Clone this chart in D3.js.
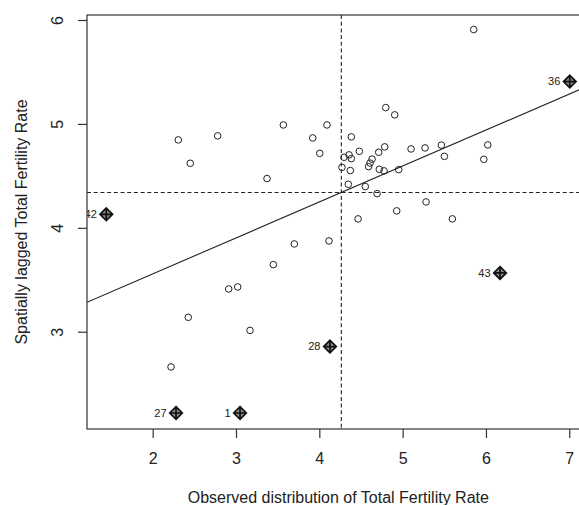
<!DOCTYPE html>
<html>

<head>
  <meta charset="UTF-8">
  <title>Moran scatterplot - Total Fertility Rate</title>
  <style>
    body {
      margin: 0;
      background: #fff;
    }

    text {
      font-family: "Liberation Sans", Arial, sans-serif;
      fill: #222;
    }

    .axis path,
    .axis line {
      stroke: #333;
      stroke-width: 1.2px;
    }

    .pt {
      fill: none;
      stroke: #222;
      stroke-width: 1px;
    }

    .infl {
      fill: #8a8a8a;
      stroke: #111;
      stroke-width: 1.7px;
    }

    .guide {
      fill: none;
      stroke: #222;
      stroke-width: 1.1px;
      stroke-dasharray: 4, 2.7;
    }

    .fit {
      fill: none;
      stroke: #222;
      stroke-width: 1.1px;
    }
  </style>
</head>

<body>
  <svg width="579" height="505" id="chart"></svg>
  <script src="https://cdn.jsdelivr.net/npm/d3@7"></script>
  <script>
    var fertility = [2.307, 2.451, 2.780, 3.568, 3.372, 3.700, 5.853, 4.797, 4.905, 4.092,
      3.921, 4.005, 4.384, 4.480, 4.297, 4.357, 4.384, 4.272, 4.372, 4.348,
      4.552, 4.693, 4.713, 4.785, 4.633, 4.609, 4.591, 4.720, 4.777, 4.953,
      5.101, 5.269, 5.465, 5.501, 6.022, 5.974, 5.281, 4.929, 4.465, 5.597,
      4.116, 3.448, 2.912, 3.020, 2.427, 3.168, 2.220];
    var lagged = [4.846, 4.621, 4.885, 4.990, 4.474, 3.845, 5.908, 5.157, 5.087, 4.990,
      4.865, 4.717, 4.875, 4.736, 4.679, 4.702, 4.666, 4.582, 4.551, 4.419,
      4.397, 4.329, 4.727, 4.779, 4.661, 4.623, 4.589, 4.563, 4.548, 4.560,
      4.759, 4.769, 4.796, 4.688, 4.798, 4.659, 4.249, 4.163, 4.086, 4.086,
      3.874, 3.646, 3.412, 3.431, 3.139, 3.013, 2.661];

    // influential observations
    var inflIds = ["42", "36", "43", "28", "27", "1"];
    var inflX = [1.443, 7.006, 6.169, 4.128, 2.280, 3.048];
    var inflY = [4.130, 5.407, 3.566, 2.857, 2.218, 2.218];

    // means and fitted line (lag ~ x)
    var meanX = 4.264;
    var meanY = 4.34;
    var slope = 0.346;
    var intercept = meanY - slope * meanX;

    var xTicks = [2, 3, 4, 5, 6, 7];
    var yTicks = [3, 4, 5, 6];
    var xLim = [1.2115, 7.244];
    var yLim = [2.064, 6.048];

    var svg = d3.select("#chart"),
      margin = { top: 15, left: 87 },
      width = 502.6,
      height = 414;

    var x = d3.scaleLinear().domain(xLim).range([0, width]),
      y = d3.scaleLinear().domain(yLim).range([height, 0]);

    var g = svg.append("g").attr("transform", "translate(" + margin.left + "," + margin.top + ")");

    g.append("defs").append("clipPath")
      .attr("id", "plotclip")
      .append("rect")
      .attr("width", width)
      .attr("height", height);

    var inner = g.append("g").attr("clip-path", "url(#plotclip)");

    // dashed mean lines
    inner.append("line").attr("class", "guide")
      .attr("x1", x(meanX)).attr("x2", x(meanX))
      .attr("y1", 0).attr("y2", height);
    inner.append("line").attr("class", "guide")
      .attr("x1", 0).attr("x2", width)
      .attr("y1", y(meanY)).attr("y2", y(meanY));

    // regression line
    inner.append("line").attr("class", "fit")
      .attr("x1", x(xLim[0])).attr("y1", y(intercept + slope * xLim[0]))
      .attr("x2", x(xLim[1])).attr("y2", y(intercept + slope * xLim[1]));

    // ordinary points
    inner.selectAll(".pt")
      .data(d3.range(fertility.length))
      .enter().append("circle")
      .attr("class", "pt")
      .attr("cx", function (i) { return x(fertility[i]); })
      .attr("cy", function (i) { return y(lagged[i]); })
      .attr("r", 3.3);

    // influential points: diamond with a plus
    var r = 6.3;
    var infl = inner.selectAll(".inflG")
      .data(d3.range(inflIds.length))
      .enter().append("g")
      .attr("class", "inflG")
      .attr("transform", function (i) {
        return "translate(" + x(inflX[i]) + "," + y(inflY[i]) + ")";
      });
    infl.append("path").attr("class", "infl")
      .attr("d", "M0," + (-r) + "L" + r + ",0L0," + r + "L" + (-r) + ",0Z" +
        "M0," + (-r) + "V" + r + "M" + (-r) + ",0H" + r);
    infl.append("text")
      .attr("x", -9.5)
      .attr("dy", "0.35em")
      .attr("text-anchor", "end")
      .style("font-size", "11px")
      .text(function (i) { return inflIds[i]; });

    // axes
    var xAxis = g.append("g")
      .attr("class", "axis")
      .attr("transform", "translate(0," + height + ")")
      .call(d3.axisBottom(x).tickValues(xTicks).tickFormat(d3.format("d"))
        .tickSize(9).tickSizeOuter(0).tickPadding(14.6));
    xAxis.selectAll("text").style("font-size", "16px").attr("fill", "#222");
    xAxis.select(".domain").remove();

    var yAxis = g.append("g")
      .attr("class", "axis")
      .call(d3.axisLeft(y).tickValues(yTicks).tickFormat(d3.format("d"))
        .tickSize(9).tickSizeOuter(0));
    yAxis.select(".domain").remove();
    yAxis.selectAll("text")
      .style("font-size", "16px")
      .attr("fill", "#222")
      .attr("transform", "rotate(-90)")
      .attr("x", 0)
      .attr("y", -23.7)
      .attr("dy", 0)
      .style("text-anchor", "middle");

    // box
    g.append("rect")
      .attr("width", width)
      .attr("height", height)
      .attr("fill", "none")
      .attr("stroke", "#333")
      .attr("stroke-width", 1.2);

    // axis titles
    svg.append("text")
      .attr("x", margin.left + width / 2)
      .attr("y", 503)
      .attr("text-anchor", "middle")
      .style("font-size", "16px")
      .text("Observed distribution of Total Fertility Rate");

    svg.append("text")
      .attr("transform", "translate(26.5," + (margin.top + height / 2) + ") rotate(-90)")
      .attr("text-anchor", "middle")
      .style("font-size", "16px")
      .text("Spatially lagged Total Fertility Rate");
  </script>
</body>

</html>
